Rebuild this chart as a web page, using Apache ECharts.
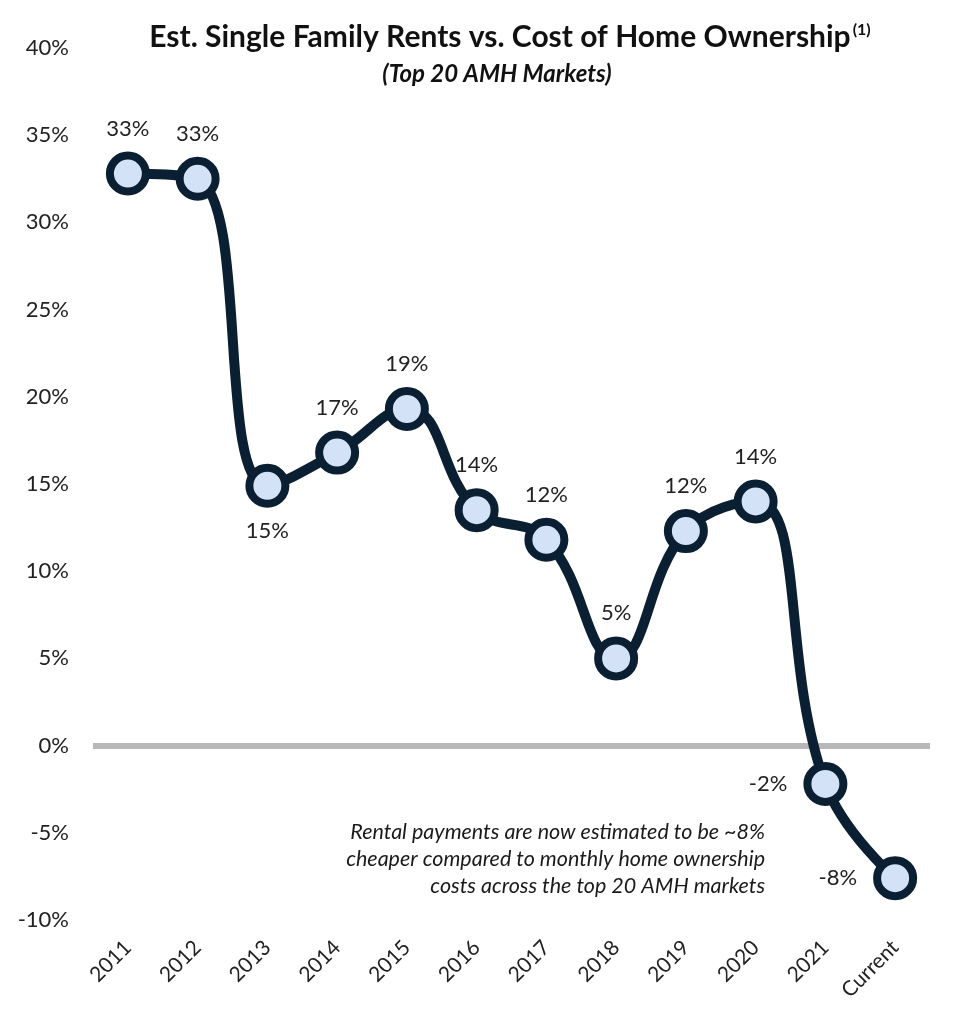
<!DOCTYPE html>
<html>
<head>
<meta charset="utf-8">
<script src="https://cdn.jsdelivr.net/npm/echarts@6/dist/echarts.min.js"></script>
<style>
html,body{margin:0;padding:0;background:#fff;}
#chart{width:953px;height:1024px;}
</style>
</head>
<body>
<div id="chart"></div>
<script>
const categories = ['2011','2012','2013','2014','2015','2016','2017','2018','2019','2020','2021','Current'];
const values = [32.8, 32.5, 14.9, 16.8, 19.3, 13.5, 11.8, 5.0, 12.3, 14.0, -2.2, -7.6];
const labelPositions = ['top','top','bottom','top','top','top','top','top','top','top','left','left'];
const titleText = 'Est. Single Family Rents vs. Cost of Home Ownership';
const subtitleText = '(Top 20 AMH Markets)';
const noteLines = ['Rental payments are now estimated to be ~8%', 'cheaper compared to monthly home ownership', 'costs across the top 20 AMH markets'];

const FONT = 'Lato, "Open Sans", sans-serif';
const chart = echarts.init(document.getElementById('chart'));

const seriesData = values.map((v, i) => ({
  value: v,
  label: { position: labelPositions[i], distance: labelPositions[i] === 'left' ? 16 : 12 }
}));

chart.setOption({
  animation: false,
  backgroundColor: '#ffffff',
  title: [{
    text: titleText + '{sup|(1)}',
    left: 505, top: 17, textAlign: 'center',
    textStyle: {
      fontFamily: FONT, fontSize: 30, fontWeight: 'bold', color: '#111',
      rich: { sup: { fontFamily: FONT, fontSize: 16, color: '#111', verticalAlign: 'top', padding: [0,0,12,2] } }
    }
  }, {
    text: subtitleText,
    left: 492, top: 57, textAlign: 'center',
    textStyle: { fontFamily: FONT, fontSize: 24, fontWeight: 'bold', fontStyle: 'italic', color: '#111' }
  }],
  grid: { left: 93, right: 23, top: 48, bottom: 104, containLabel: false },
  xAxis: {
    type: 'category',
    data: categories,
    boundaryGap: true,
    axisLine: { show: false, onZero: false },
    axisTick: { show: false },
    axisLabel: { rotate: 45, fontFamily: FONT, fontSize: 21, color: '#222', margin: 24, interval: 0 }
  },
  yAxis: {
    type: 'value',
    min: -10, max: 40, interval: 5,
    axisLine: { show: false },
    axisTick: { show: false },
    splitLine: { show: false },
    axisLabel: { formatter: v => v + '%', fontFamily: FONT, fontSize: 22, color: '#222', margin: 24 }
  },
  series: [{
    type: 'line',
    data: seriesData,
    smooth: 0.45,
    symbol: 'circle',
    symbolSize: 36,
    lineStyle: { color: '#0b1f33', width: 10 },
    itemStyle: { color: '#d3e2f7', borderColor: '#0b1f33', borderWidth: 8 },
    label: {
      show: true,
      formatter: p => Math.round(p.value) + '%',
      fontFamily: FONT, fontSize: 22, color: '#222'
    },
    z: 3,
    markLine: {
      silent: true,
      symbol: 'none',
      label: { show: false },
      lineStyle: { color: '#b8b8b8', width: 6, type: 'solid' },
      data: [{ yAxis: 0 }],
      z: 1
    }
  }],
  graphic: noteLines.map((t, i) => ({
    type: 'text',
    right: 953 - 765,
    top: 821 + i * 27,
    style: { text: t, fontFamily: FONT, fontSize: 21.5, fontStyle: 'italic', fill: '#1a1a1a', textAlign: 'right' }
  }))
});
</script>
</body>
</html>
